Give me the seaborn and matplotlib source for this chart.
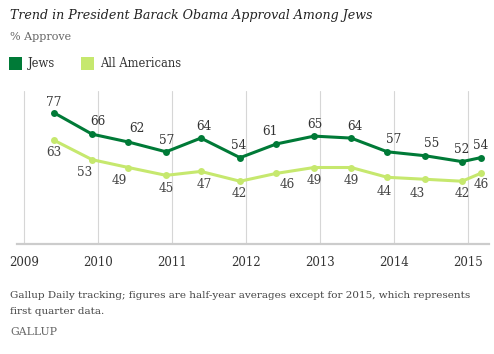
import matplotlib
matplotlib.use("Agg")
import matplotlib.pyplot as plt
import seaborn as sns
import pandas as pd
from matplotlib.patches import Rectangle

# ---- data ----
periods = [2009.40, 2009.92, 2010.41, 2010.92, 2011.39, 2011.92, 2012.41,
           2012.92, 2013.42, 2013.91, 2014.42, 2014.92, 2015.17]
jews = [77, 66, 62, 57, 64, 54, 61, 65, 64, 57, 55, 52, 54]
all_americans = [63, 53, 49, 45, 47, 42, 46, 49, 49, 44, 43, 42, 46]
series_names = ["Jews", "All Americans"]
year_ticks = [2009, 2010, 2011, 2012, 2013, 2014, 2015]

# ---- styling ----
colors = {"Jews": "#007a37", "All Americans": "#c6e86e"}
jews_dx = [0, 6, 9, 1, 3, -1, -6, 1, 4, 6, 7, 0, 0]
jews_dy = [10, 13, 13, 11, 12, 12, 12, 12, 12, 12, 12, 12, 12]
am_dx = [0, -7, -9, 0, 3, -1, 11, 0, 0, -3, -8, 0, 1]
am_dy = [12, 13, 13, 13, 13, 12, 11, 13, 13, 14, 14, 12, 11]

sns.set_theme(style="white")
plt.rcParams["font.family"] = ["DejaVu Serif"]

df = pd.DataFrame({
    "period": periods * 2,
    "value": jews + all_americans,
    "series": [series_names[0]] * len(jews) + [series_names[1]] * len(all_americans),
})

fig = plt.figure(figsize=(4.94, 3.54), dpi=100)
W, H = 494, 354
ax = fig.add_axes([17 / W, 1 - 244 / H, (489 - 17) / W, (244 - 91) / H])

sns.lineplot(data=df, x="period", y="value", hue="series", hue_order=series_names,
             palette=colors, marker="o", markersize=5, markeredgewidth=0,
             linewidth=2.2, legend=False, ax=ax)

ax.set_xlim(2009 - 7 / 74, 2009 + 465 / 74)
ax.set_ylim(10, 88)
ax.set_xticks(year_ticks)
ax.set_xticklabels([str(y) for y in year_ticks])
ax.set_yticks([])
ax.set_xlabel("")
ax.set_ylabel("")
for s in ["top", "left", "right"]:
    ax.spines[s].set_visible(False)
ax.spines["bottom"].set_color("#cccccc")
ax.spines["bottom"].set_linewidth(1.6)
for y in year_ticks:
    ax.axvline(y, color="#d6d6d6", lw=0.8, zorder=0)
ax.tick_params(axis="x", length=0, pad=9, labelsize=8.5, colors="#333333")

px = 0.72
for i, (x, v) in enumerate(zip(periods, jews)):
    ax.annotate(str(v), (x, v), xytext=(jews_dx[i] * px, jews_dy[i] * px),
                textcoords="offset points", ha="center", va="center",
                fontsize=8.7, color="#333333")
for i, (x, v) in enumerate(zip(periods, all_americans)):
    ax.annotate(str(v), (x, v), xytext=(am_dx[i] * px, -am_dy[i] * px),
                textcoords="offset points", ha="center", va="center",
                fontsize=8.7, color="#444444")

# titles
fig.text(10 / W, 1 - 15 / H, "Trend in President Barack Obama Approval Among Jews",
         fontsize=9.1, style="italic", color="#222222", va="center", ha="left")
fig.text(10 / W, 1 - 37 / H, "% Approve", fontsize=8, color="#666666",
         va="center", ha="left")

# legend
for (x0, tx), name in zip([(9, 28), (81, 100)], series_names):
    fig.patches.append(Rectangle((x0 / W, 1 - 70 / H), 13 / W, 13 / H,
                                 transform=fig.transFigure, facecolor=colors[name],
                                 edgecolor="none"))
    fig.text(tx / W, 1 - 63.5 / H, name, fontsize=8.3, color="#333333",
             va="center", ha="left")

# footnote
fig.text(10 / W, 1 - 296 / H,
         "Gallup Daily tracking; figures are half-year averages except for 2015, which represents",
         fontsize=7.5, color="#444444", va="center", ha="left")
fig.text(10 / W, 1 - 312 / H, "first quarter data.", fontsize=7.5, color="#444444",
         va="center", ha="left")
fig.text(10 / W, 1 - 332 / H, "GALLUP", fontsize=7.8, color="#666666",
         va="center", ha="left")

fig.savefig("out.png", dpi=100)
